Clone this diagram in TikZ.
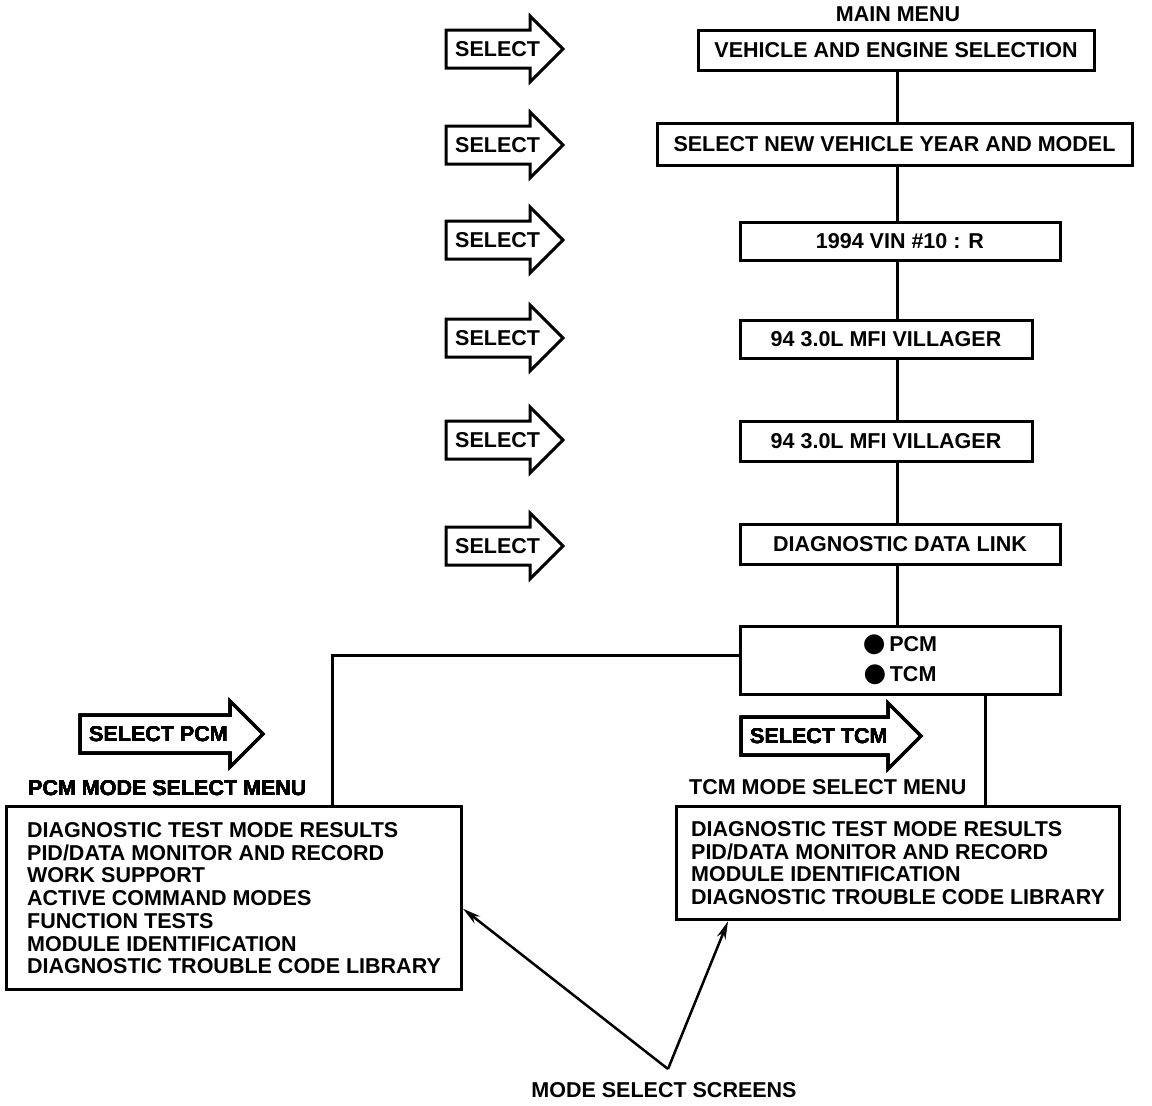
\documentclass[tikz,border=0pt]{standalone}
\usepackage{fontspec}
\setmainfont{Liberation Sans}
\newfontfamily\dotfont{DejaVu Sans}
\usetikzlibrary{arrows.meta,positioning}
\newcommand{\menufont}{\fontsize{21.5}{22.7}\selectfont\bfseries}
\newcommand{\bigdot}{{\dotfont\fontsize{26}{30}\selectfont ●}}
\newcommand{\selectarrow}[5]{% name, left x, tip x, mid y, text
  \draw[arrowbody] (#2,#4-19) -- (#3-33,#4-19) -- (#3-33,#4-33) -- (#3,#4) -- (#3-33,#4+33) -- (#3-33,#4+19) -- (#2,#4+19) -- cycle;
  \node[menutext, anchor=west] (#1) at (#2+9,#4) {#5};}
\tikzset{
  menutext/.style={inner sep=0pt, font=\menufont},
  menubox/.style={draw, line width=3pt, fill=white, inner sep=0pt, font=\menufont},
  listbox/.style={draw, line width=3pt, align=left, inner xsep=0pt, inner ysep=16pt, font=\menufont},
  arrowbody/.style={line width=3pt, line join=miter},
  conn/.style={line width=3pt},
  pointer/.style={line width=2.5pt, -{Stealth[length=18pt,width=9pt]}}
}
\begin{document}
\begin{tikzpicture}[x=1pt,y=-1pt]
  \useasboundingbox (0,0) rectangle (1152,1106);
  \coordinate (spine) at (897,0);
  % main column
  \node[menutext] (mainmenu) at (898,14) {MAIN MENU};
  \node[menubox, minimum width=396pt, minimum height=40pt] (vehicle) at (896,50) {VEHICLE AND ENGINE SELECTION};
  \node[menubox, minimum width=475pt, minimum height=42pt] (newmodel) at (894.5,144) {SELECT NEW VEHICLE YEAR AND MODEL};
  \node[menubox, minimum width=320pt, minimum height=38pt] (vin) at (900,241) {1994 VIN \#10 : R};
  \node[menubox, minimum width=292pt, minimum height=38pt] (engine) at (886,339) {94 3.0L MFI VILLAGER};
  \node[menubox, minimum width=292pt, minimum height=40pt] (enginetwo) at (886,441) {94 3.0L MFI VILLAGER};
  \node[menubox, minimum width=320pt, minimum height=40pt] (ddl) at (900,544) {DIAGNOSTIC DATA LINK};
  \node[menubox, minimum width=320pt, minimum height=68pt, align=center, font=\fontsize{21.5}{30}\selectfont\bfseries] (modules) at (900,660) {\bigdot\,PCM\\\bigdot\,TCM};
  \foreach \a/\b in {vehicle/newmodel,newmodel/vin,vin/engine,engine/enginetwo,enginetwo/ddl,ddl/modules}
    \draw[conn] (\a.south -| spine) -- (\b.north -| spine);
  % select arrows
  \foreach \n/\y in {vehicle/49,model/145,vin/240,engine/338,enginetwo/440,ddl/546}
    \selectarrow{sel\n}{446}{563}{\y}{SELECT}
  \selectarrow{selpcm}{80}{263}{734}{SELECT PCM}
  \selectarrow{seltcm}{741}{921}{736}{SELECT TCM}
  % mode select menus
  \node[menutext, anchor=west] (pcmtitle) at (28,788) {PCM MODE SELECT MENU};
  \node[listbox, minimum width=455pt, anchor=north west] (pcmmenu) at (5,805) {DIAGNOSTIC TEST MODE RESULTS\\PID/DATA MONITOR AND RECORD\\WORK SUPPORT\\ACTIVE COMMAND MODES\\FUNCTION TESTS\\MODULE IDENTIFICATION\\DIAGNOSTIC TROUBLE CODE LIBRARY};
  \node[menutext, anchor=west] (tcmtitle) at (689,787) {TCM MODE SELECT MENU};
  \node[listbox, minimum width=443pt, inner ysep=15pt, anchor=north west] (tcmmenu) at (675,805) {DIAGNOSTIC TEST MODE RESULTS\\PID/DATA MONITOR AND RECORD\\MODULE IDENTIFICATION\\DIAGNOSTIC TROUBLE CODE LIBRARY};
  \draw[conn] ([yshift=5pt]modules.west) -| ([xshift=98.5pt]pcmmenu.north);
  \draw[conn] ([xshift=85pt]modules.south) -- ([xshift=85pt]modules.south |- tcmmenu.north);
  % screens label
  \node[menutext] (screens) at (664,1090) {MODE SELECT SCREENS};
  \coordinate (fork) at (668,1069);
  \draw[pointer] (fork) -- ([yshift=-10.5pt]pcmmenu.east);
  \draw[pointer] (fork) -- ([xshift=53pt]tcmmenu.south west);
\end{tikzpicture}
\end{document}
